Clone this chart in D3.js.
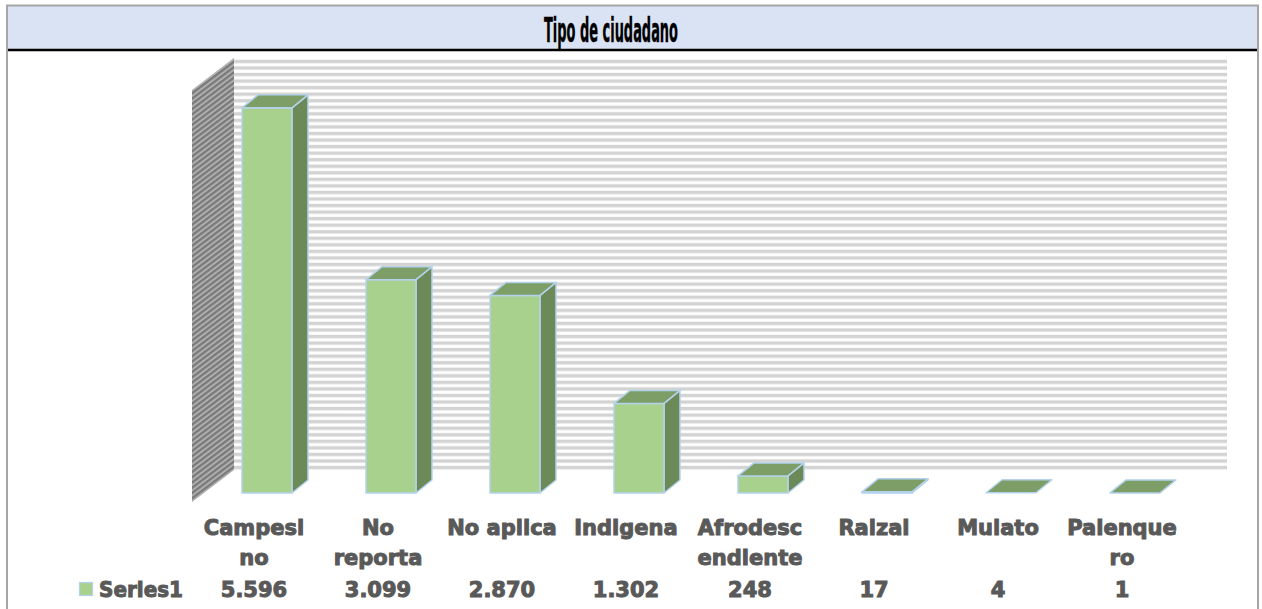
<!DOCTYPE html>
<html>
<head>
<meta charset="utf-8">
<script src="https://cdn.jsdelivr.net/npm/d3@7"></script>
<style>
  body { margin: 0; background: #ffffff; }
  svg { display: block; }
  .cat, .val, .leg { font-family: "DejaVu Sans", sans-serif; font-weight: bold; fill: #595959; stroke: #595959; stroke-width: 1px; }
</style>
</head>
<body>
<svg id="chart" width="1262" height="609"></svg>
<script>
// data
var categories = ["Campesino", "No reporta", "No aplica", "Indigena", "Afrodescendiente", "Raizal", "Mulato", "Palenquero"];
var labelLines = [["Campesi", "no"], ["No", "reporta"], ["No aplica"], ["Indigena"], ["Afrodesc", "endiente"], ["Raizal"], ["Mulato"], ["Palenque", "ro"]];
var values = [5596, 3099, 2870, 1302, 248, 17, 4, 1];
var valueLabels = ["5.596", "3.099", "2.870", "1.302", "248", "17", "4", "1"];
var seriesName = "Series1";
var chartTitle = "Tipo de ciudadano";

var svg = d3.select("#chart");

var data = categories.map(function (c, i) {
    return {cat: c, value: values[i], lines: labelLines[i], label: valueLabels[i]};
});

var xScale = d3.scaleBand().domain(categories).range([205, 1197]).padding(0);
var yScale = d3.scaleLinear().domain([0, 6000]).range([493, 80]);
var barW = xScale.bandwidth() * 0.403;
var depthX = 16, depthY = 13;      // bar depth
var wallDx = 42, wallDy = 32;      // side wall depth
var wallShift = 23;                // back wall is higher than the front plane
var tableShift = -13;              // table cells sit a bit left of the bars

var defs = svg.append("defs");
var hp = defs.append("pattern").attr("id", "hstripe")
    .attr("patternUnits", "userSpaceOnUse").attr("width", 20).attr("height", 6.55);
hp.append("rect").attr("width", 20).attr("height", 6.55).attr("fill", "#ffffff");
hp.append("rect").attr("y", 0.8).attr("width", 20).attr("height", 3.4).attr("fill", "#d3d3d3");

var dp = defs.append("pattern").attr("id", "dstripe")
    .attr("patternUnits", "userSpaceOnUse").attr("width", 10).attr("height", 4.2)
    .attr("patternTransform", "rotate(-37)");
dp.append("rect").attr("width", 10).attr("height", 4.2).attr("fill", "#b0b0b0");
dp.append("rect").attr("width", 10).attr("height", 2.3).attr("fill", "#7a7a7a");

// frame and title band
svg.append("rect").attr("x", 7).attr("y", 5.5).attr("width", 1251).attr("height", 44)
    .attr("fill", "#dae3f3");
svg.append("line").attr("x1", 7).attr("x2", 1258).attr("y1", 50).attr("y2", 50)
    .attr("stroke", "#000000").attr("stroke-width", 2.5);
svg.append("path").attr("d", "M7,609 V5.5 H1258 V609")
    .attr("fill", "none").attr("stroke", "#a6a6a6").attr("stroke-width", 2);
svg.append("text")
    .attr("x", 611).attr("y", 42)
    .attr("text-anchor", "middle")
    .attr("font-family", "'DejaVu Sans Condensed', 'DejaVu Sans', sans-serif")
    .attr("font-weight", "bold")
    .attr("font-size", 33)
    .attr("textLength", 134)
    .attr("lengthAdjust", "spacingAndGlyphs")
    .attr("fill", "#000000")
    .attr("stroke", "#000000").attr("stroke-width", 0.4)
    .text(chartTitle);

// walls
var wallLeft = 192 + wallDx, wallRight = 1227;
var wallTop = yScale(6000) - wallShift + 1, wallBottom = yScale(0) - wallShift;
svg.append("rect").attr("x", wallLeft).attr("y", wallTop)
    .attr("width", wallRight - wallLeft).attr("height", wallBottom - wallTop)
    .attr("fill", "url(#hstripe)");
svg.append("path")
    .attr("d", "M" + wallLeft + "," + wallTop + " L" + (wallLeft - wallDx) + "," + (wallTop + wallDy) +
        " L" + (wallLeft - wallDx) + "," + (wallBottom + wallDy) + " L" + wallLeft + "," + wallBottom + "Z")
    .attr("fill", "url(#dstripe)");

// bars
var edge = "#b4d2ec";
var bars = svg.append("g").selectAll("g").data(data).enter().append("g");

bars.each(function (d) {
    var g = d3.select(this);
    var x0 = xScale(d.cat) + (xScale.bandwidth() - barW) / 2;
    var x1 = x0 + barW;
    var yt = yScale(d.value), yb = yScale(0);
    var h = yb - yt;
    if (h > 1) {
        g.append("path")
            .attr("d", "M" + x1 + "," + yt + " L" + (x1 + depthX) + "," + (yt - depthY) +
                " L" + (x1 + depthX) + "," + (yb - depthY) + " L" + x1 + "," + yb + "Z")
            .attr("fill", "#6b8a57").attr("stroke", edge).attr("stroke-width", 1.5).attr("stroke-linejoin", "round");
        g.append("rect").attr("x", x0).attr("y", yt).attr("width", barW).attr("height", h)
            .attr("fill", "#a9d18e").attr("stroke", edge).attr("stroke-width", 1.5);
    }
    g.append("path")
        .attr("d", "M" + x0 + "," + yt + " L" + (x0 + depthX) + "," + (yt - depthY) +
            " L" + (x1 + depthX) + "," + (yt - depthY) + " L" + x1 + "," + yt + "Z")
        .attr("fill", "#7d9e67").attr("stroke", edge).attr("stroke-width", 1.5).attr("stroke-linejoin", "round");
});

function cellX(d) { return xScale(d.cat) + xScale.bandwidth() / 2 + tableShift; }

// category labels
var cats = svg.append("g").selectAll("text").data(data).enter().append("text")
    .attr("class", "cat")
    .attr("text-anchor", "middle")
    .attr("font-size", 21)
    .attr("x", cellX)
    .attr("y", 535);
cats.selectAll("tspan").data(function (d) { return d.lines.map(function (l) { return {l: l, x: cellX(d)}; }); })
    .enter().append("tspan")
    .attr("x", function (t) { return t.x; })
    .attr("dy", function (t, i) { return i === 0 ? 0 : 30; })
    .text(function (t) { return t.l; });

// data table row
svg.append("g").selectAll("text").data(data).enter().append("text")
    .attr("class", "val")
    .attr("text-anchor", "middle")
    .attr("font-size", 21)
    .attr("x", cellX)
    .attr("y", 597)
    .text(function (d) { return d.label; });

svg.append("rect").attr("x", 79.5).attr("y", 582.5).attr("width", 13).attr("height", 13)
    .attr("fill", "#a9d18e").attr("stroke", edge).attr("stroke-width", 1.2);
svg.append("text").attr("class", "leg")
    .attr("x", 99).attr("y", 597).attr("font-size", 21)
    .attr("textLength", 84).attr("lengthAdjust", "spacingAndGlyphs")
    .text(seriesName);
</script>
</body>
</html>
